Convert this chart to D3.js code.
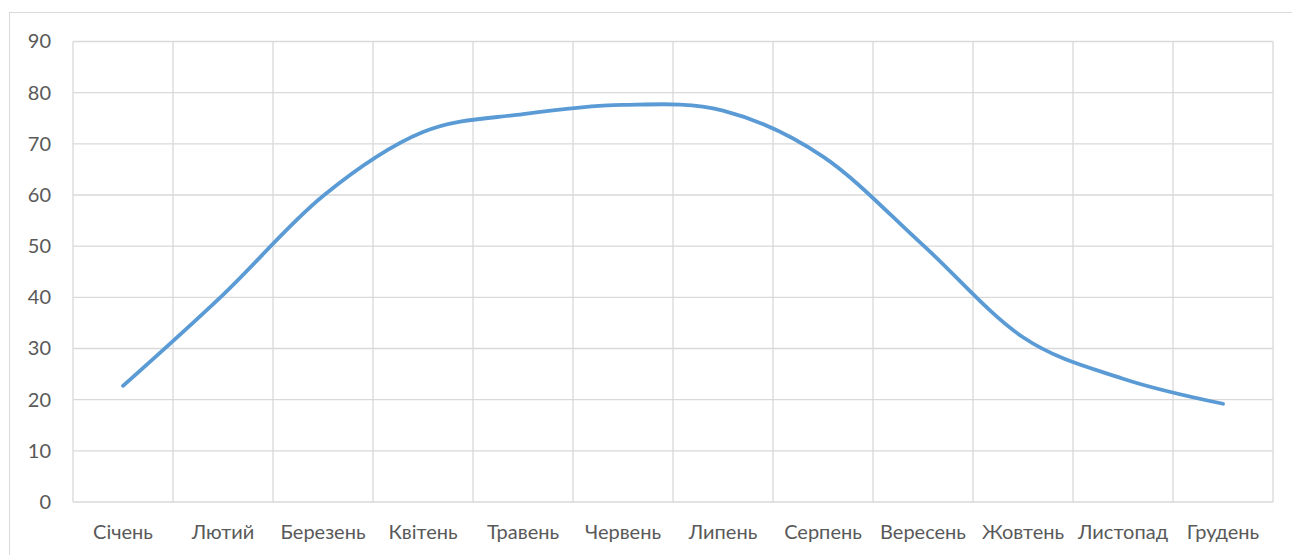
<!DOCTYPE html>
<html>
<head>
<meta charset="utf-8">
<script src="https://cdn.jsdelivr.net/npm/d3@7"></script>
<style>
  html, body { margin: 0; padding: 0; background: #fff; }
  svg { display: block; }
  text { font-family: Lato, "Open Sans", sans-serif; fill: #595959; }
</style>
</head>
<body>
<svg id="chart" width="1292" height="555"></svg>
<script>
// Monthly series
const months = ["Січень", "Лютий", "Березень", "Квітень", "Травень", "Червень",
                "Липень", "Серпень", "Вересень", "Жовтень", "Листопад", "Грудень"];
const values = [22.7, 40.5, 59.8, 72.3, 75.8, 77.6, 76.5, 67.5, 50.2, 32.2, 24.1, 19.2];
const yTicks = [0, 10, 20, 30, 40, 50, 60, 70, 80, 90];

const svg = d3.select("#chart");
const W = 1292, H = 555;
const margin = { left: 73, right: 19, top: 41.5, bottom: 53 };

// chart frame
svg.append("rect")
  .attr("x", 9.5).attr("y", 12.5)
  .attr("width", W).attr("height", H)
  .attr("fill", "#fff").attr("stroke", "#d9d9d9").attr("stroke-width", 1);

const x = d3.scaleBand().domain(months)
  .range([margin.left, W - margin.right]).paddingInner(0).paddingOuter(0);
const y = d3.scaleLinear().domain([0, 90]).range([H - margin.bottom, margin.top]);

const grid = svg.append("g").attr("stroke", "#d9d9d9").attr("stroke-width", 1.3);

// horizontal gridlines
grid.selectAll("line.h").data(yTicks).join("line")
  .attr("class", "h")
  .attr("x1", margin.left).attr("x2", W - margin.right)
  .attr("y1", d => y(d)).attr("y2", d => y(d));

// vertical category boundaries
const bounds = months.map(m => x(m)).concat([x(months[months.length - 1]) + x.bandwidth()]);
grid.selectAll("line.v").data(bounds).join("line")
  .attr("class", "v")
  .attr("x1", d => d).attr("x2", d => d)
  .attr("y1", y(90)).attr("y2", y(0));

// y axis labels
const yAxis = d3.axisLeft(y).tickValues(yTicks).tickSize(0).tickPadding(0);
svg.append("g")
  .attr("transform", `translate(${margin.left - 22},0)`)
  .call(yAxis)
  .call(g => g.select(".domain").remove())
  .call(g => g.selectAll("text").attr("font-size", 20).attr("fill", "#595959")
    .style("font-family", "Lato, 'Open Sans', sans-serif"));

// x axis labels
const xAxis = d3.axisBottom(x).tickSize(0).tickPadding(0);
svg.append("g")
  .attr("transform", `translate(0,${y(0) + 23})`)
  .call(xAxis)
  .call(g => g.select(".domain").remove())
  .call(g => g.selectAll("text").attr("font-size", 20).attr("fill", "#595959")
    .style("font-family", "Lato, 'Open Sans', sans-serif"));

// smoothed series line
const line = d3.line()
  .x((d, i) => x(months[i]) + x.bandwidth() / 2)
  .y(d => y(d))
  .curve(d3.curveCardinal.tension(0));

svg.append("path")
  .datum(values)
  .attr("d", line)
  .attr("fill", "none")
  .attr("stroke", "#5b9bd5")
  .attr("stroke-width", 3.8)
  .attr("stroke-linecap", "round");
</script>
</body>
</html>
